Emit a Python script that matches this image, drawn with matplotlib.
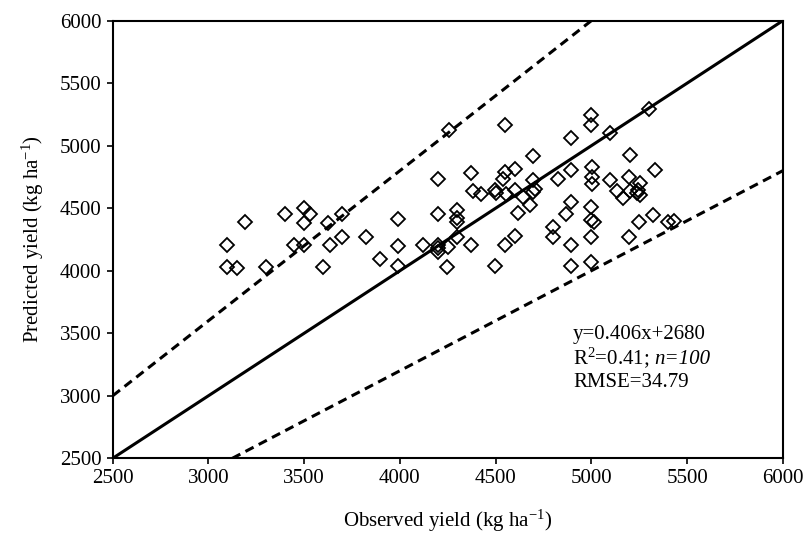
import numpy as np
import matplotlib
matplotlib.use('Agg')
import matplotlib.pyplot as plt

# 全局字体：Times 风格
plt.rcParams['font.family'] = 'serif'
plt.rcParams['font.serif'] = ['Liberation Serif', 'DejaVu Serif']
plt.rcParams['mathtext.fontset'] = 'custom'
plt.rcParams['mathtext.rm'] = 'Liberation Serif'
plt.rcParams['mathtext.it'] = 'Liberation Serif:italic'
plt.rcParams['font.size'] = 15

# -------------------------- 数据（观测值 vs 预测值）--------------------------
observed = [3190, 3095, 3095, 3150, 3300, 3400, 3500, 3530, 3500, 3447,
            3500, 3625, 3695, 3637, 3700, 3598, 3825, 3897, 3990, 3990,
            3990, 4255, 4548, 4896, 4696, 4200, 4370, 4548, 4600, 4539,
            4826, 4896, 4382, 4422, 4496, 4503, 4556, 4600, 4644, 4696,
            4705, 4696, 4678, 4617, 4893, 4869, 4801, 4801, 4896, 4896,
            4600, 4548, 4499, 4372, 4300, 4300, 4300, 4300, 4200, 4200,
            4200, 4252, 4248, 4120, 4200, 5000, 5000, 5100, 5300, 5200,
            5330, 5003, 5003, 5003, 5098, 5199, 5255, 5133, 5165, 5203,
            5246, 5255, 4997, 4997, 5015, 4997, 4997, 5251, 5321, 5199,
            5400, 5433, 5240]
predicted = [4390, 4206, 4029, 4021, 4026, 4452, 4498, 4452, 4383, 4206,
             4206, 4383, 4452, 4206, 4267, 4029, 4267, 4093, 4410, 4198,
             4034, 5125, 5164, 5061, 4921, 4730, 4780, 4788, 4815, 4735,
             4735, 4807, 4635, 4617, 4643, 4622, 4617, 4643, 4590, 4722,
             4656, 4630, 4524, 4458, 4551, 4450, 4347, 4272, 4206, 4034,
             4278, 4206, 4034, 4206, 4484, 4418, 4391, 4267, 4450, 4206,
             4153, 4193, 4026, 4206, 4180, 5245, 5166, 5099, 5294, 4926,
             4806, 4826, 4747, 4691, 4726, 4747, 4699, 4638, 4579, 4638,
             4646, 4606, 4507, 4406, 4392, 4272, 4072, 4387, 4446, 4272,
             4387, 4398, 4620]

axis_min, axis_max = 2500, 6000
ticks = np.arange(2500, 6001, 500)
eq_text = 'y=0.406x+2680'
r2_text = 'R$^{2}$=0.41;'
n_text = 'n=100'
rmse_text = 'RMSE=34.79'

# -------------------------- 绘图 --------------------------
fig = plt.figure(figsize=(8.07, 5.53), dpi=100)
ax = fig.add_axes([0.1397, 0.1713, 0.8303, 0.7913])

line_x = np.array([axis_min, axis_max])
ax.plot(line_x, line_x, color='black', lw=2.2, zorder=2)               # 1:1 线
ax.plot(line_x, line_x * 1.2, color='black', lw=2.2, ls=(0, (3.0, 1.9)), zorder=2)  # +20%
ax.plot(line_x, line_x * 0.8, color='black', lw=2.2, ls=(0, (3.0, 1.9)), zorder=2)  # -20%

ax.plot(observed, predicted, ls='none', marker='D', ms=7.6, mfc='none',
        mec='black', mew=1.3, zorder=3)

ax.set_xlim(axis_min, axis_max)
ax.set_ylim(axis_min, axis_max)
ax.set_xticks(ticks)
ax.set_yticks(ticks)
ax.tick_params(direction='out', length=4, width=1.2, pad=4)
for side in ['top', 'right', 'bottom', 'left']:
    ax.spines[side].set_linewidth(1.5)

ax.set_xlabel('Observed yield (kg ha$^{-1}$)', labelpad=14)
ax.set_ylabel('Predicted yield (kg ha$^{-1}$)', labelpad=10)

# 回归方程标注（n=100 斜体）
ax.text(4905, 3486, eq_text, va='center', ha='left')
t_r2 = ax.text(4905, 3254, r2_text, va='baseline', ha='left')
ax.annotate(n_text, xy=(1, 3254), xycoords=(t_r2, 'data'), xytext=(3.5, 0),
            textcoords='offset points', va='baseline', ha='left', style='italic')
ax.text(4905, 3110, rmse_text, va='center', ha='left')

fig.savefig('out.png', dpi=100)
